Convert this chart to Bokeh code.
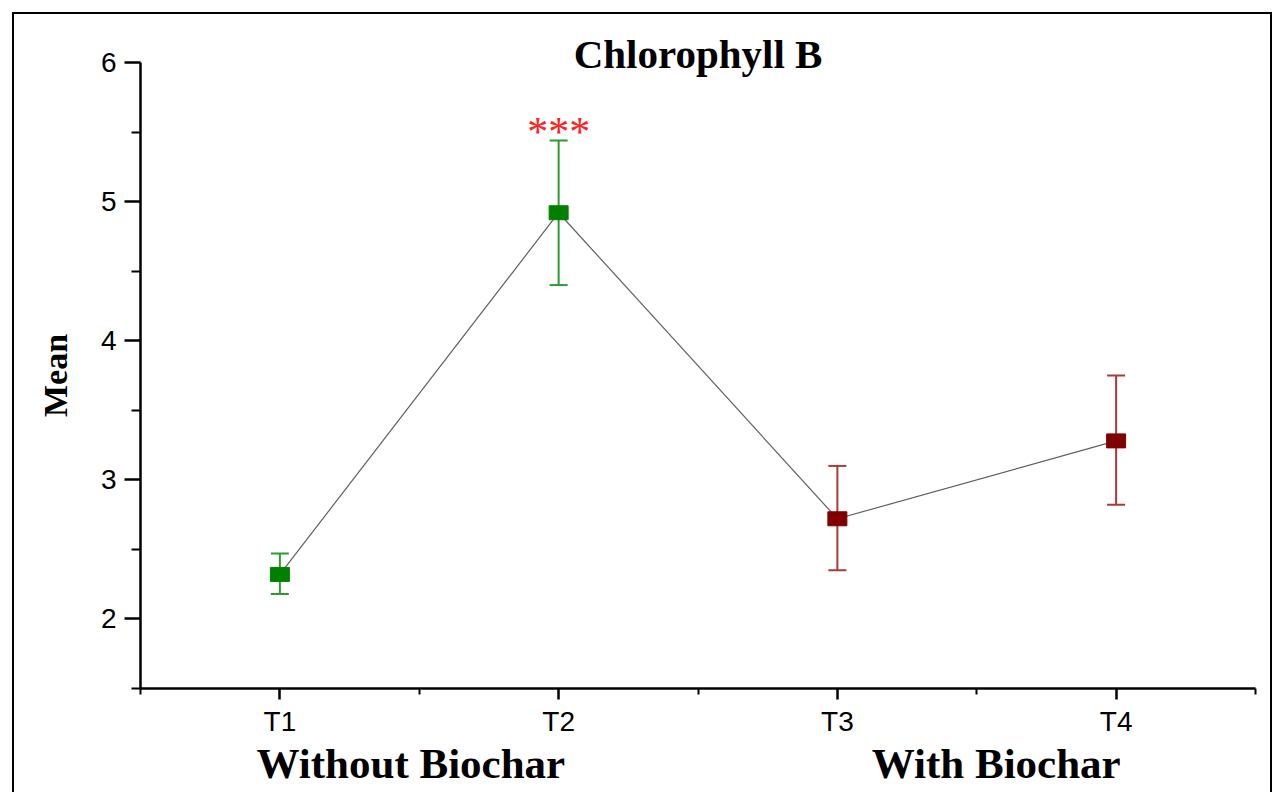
from bokeh.plotting import figure
from bokeh.models import FixedTicker, Label, Whisker, ColumnDataSource, TeeHead, Range1d, LinearAxis
from bokeh.embed import file_html
from bokeh.resources import INLINE

# ---- data ----
treatments = ["T1", "T2", "T3", "T4"]
x_pos = [1, 2, 3, 4]
means = [2.32, 4.92, 2.72, 3.28]
upper = [2.47, 5.44, 3.10, 3.75]
lower = [2.18, 4.40, 2.35, 2.82]
marker_colors = ["#008000", "#008000", "#800000", "#800000"]
bar_colors = ["#2F9A2F", "#2F9A2F", "#A83A3A", "#A83A3A"]
y_ticks = [2, 3, 4, 5, 6]
y_minor = [1.5, 2.5, 3.5, 4.5, 5.5]
x_minor = [0.5, 1.5, 2.5, 3.5, 4.5]
group_labels = ["Without Biochar", "With Biochar"]
group_x = [1.47, 3.57]
title_text = "Chlorophyll B"
signif_text = "***"

W, H = 1260, 780
p = figure(width=W, height=H, output_backend="svg", toolbar_location=None,
           x_range=Range1d(0.5, 4.5), y_range=Range1d(1.5, 6.0),
           min_border_left=126, min_border_right=19,
           min_border_top=48, min_border_bottom=106)
p.styles = {"margin-left": "12px", "margin-top": "12px",
            "border-left": "2px solid black", "border-top": "2px solid black",
            "border-right": "2px solid black"}
p.background_fill_color = "white"
p.border_fill_color = "white"
p.outline_line_color = None
p.xgrid.grid_line_color = None
p.ygrid.grid_line_color = None

# title
p.title.text = title_text
p.title.align = "center"
p.title.text_font = "Liberation Serif"
p.title.text_font_style = "bold"
p.title.text_font_size = "41px"
p.title.text_color = "black"
p.title.standoff = -29

# axes
p.xaxis.ticker = FixedTicker(ticks=x_pos, minor_ticks=x_minor)
p.xaxis.major_label_overrides = {x: t for x, t in zip(x_pos, treatments)}
p.yaxis.ticker = FixedTicker(ticks=y_ticks, minor_ticks=y_minor)
for ax in (p.xaxis, p.yaxis):
    ax.axis_line_width = 2.5
    ax.axis_line_color = "black"
    ax.major_tick_line_width = 2.5
    ax.minor_tick_line_width = 2
    ax.major_tick_line_color = "black"
    ax.minor_tick_line_color = "black"
    ax.major_tick_in = 0
    ax.minor_tick_in = 0
    ax.major_label_text_font = "Liberation Sans"
    ax.major_label_text_font_size = "28px"
    ax.major_label_text_color = "black"
p.xaxis.major_tick_out = 11
p.xaxis.minor_tick_out = 6
p.xaxis.major_label_standoff = 6
p.yaxis.major_tick_out = 16
p.yaxis.minor_tick_out = 9
p.yaxis.major_label_standoff = 8
p.yaxis.axis_label = "Mean"
p.yaxis.axis_label_text_font = "Liberation Serif"
p.yaxis.axis_label_text_font_style = "bold"
p.yaxis.axis_label_text_font_size = "34px"
p.yaxis.axis_label_text_color = "black"
p.yaxis.axis_label_standoff = 24

# group labels as a second, line-less axis below
gaxis = LinearAxis(ticker=FixedTicker(ticks=group_x),
                   major_label_overrides={x: t for x, t in zip(group_x, group_labels)})
gaxis.axis_line_color = None
gaxis.major_tick_line_color = None
gaxis.minor_tick_line_color = None
gaxis.major_tick_out = 0
gaxis.major_label_standoff = 0
gaxis.major_label_text_font = "Liberation Serif"
gaxis.major_label_text_font_style = "bold"
gaxis.major_label_text_font_size = "43px"
gaxis.major_label_text_color = "black"
p.add_layout(gaxis, "below")

# connecting line
p.line(x_pos, means, line_color="#606060", line_width=1.2)

# error bars
for cols in ([0, 1], [2, 3]):
    src = ColumnDataSource(dict(x=[x_pos[i] for i in cols],
                                upper=[upper[i] for i in cols],
                                lower=[lower[i] for i in cols]))
    c = bar_colors[cols[0]]
    w = Whisker(base="x", upper="upper", lower="lower", source=src,
                line_color=c, line_width=2,
                upper_head=TeeHead(size=18, line_color=c, line_width=2),
                lower_head=TeeHead(size=18, line_color=c, line_width=2))
    p.add_layout(w)

# markers
p.rect(x_pos, means, width=19, height=14, width_units="screen", height_units="screen",
       fill_color=marker_colors, line_color=marker_colors)

# significance mark
p.add_layout(Label(x=x_pos[1], y=5.50, text=signif_text, text_font="Liberation Serif",
                   text_font_size="42px", text_color="#FF2020",
                   text_align="center", text_baseline="middle"))

open("out.html", "w").write(file_html(p, INLINE))
